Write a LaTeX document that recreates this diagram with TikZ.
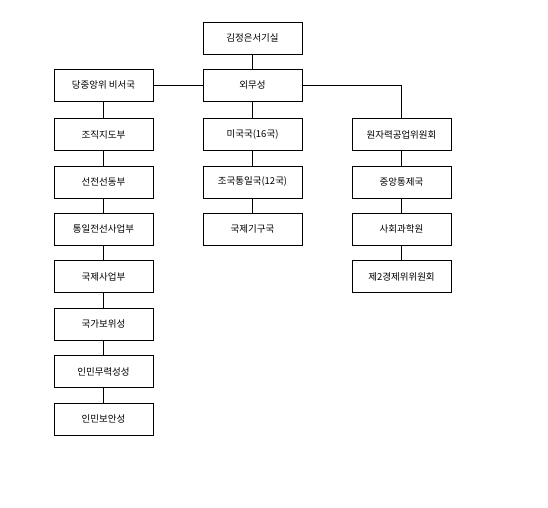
\documentclass[tikz,border=0pt]{standalone}
\usepackage{fontspec}
\newfontfamily\kofont{Noto Sans CJK KR}
\tikzset{every picture/.style={line width=0.8pt}}
\tikzset{unit/.style={draw, minimum width=99pt, minimum height=32pt, inner sep=0pt,
    font=\kofont\fontsize{9.5}{11}\selectfont}}

\begin{document}
\begin{tikzpicture}[x=1pt, y=-1pt]
    \useasboundingbox (0,0) rectangle (548,507);
    \node[unit] (secr) at (252.5,38) {김정은서기실};
    \node[unit] (mofa) at (252.5,85) {외무성};
    \node[unit] (party) at (103.5,85) {당중앙위 비서국};
    % left column
    \foreach \name/\txt [count=\i] in {l1/조직지도부, l2/선전선동부, l3/통일전선사업부, l4/국제사업부, l5/국가보위성, l6/인민무력성성, l7/인민보안성}
        \node[unit] (\name) at (103.5,{134.5+(\i-1)*47.4}) {\txt};
    % middle column
    \foreach \name/\txt [count=\i] in {m1/미국국(16국), m2/조국통일국(12국), m3/국제기구국}
        \node[unit] (\name) at (252.5,{134.5+(\i-1)*47.4}) {\txt};
    % right column
    \foreach \name/\txt [count=\i] in {r1/원자력공업위원회, r2/중앙통제국, r3/사회과학원, r4/제2경제위위원회}
        \node[unit] (\name) at (401.5,{134.5+(\i-1)*47.4}) {\txt};
    \draw (secr) -- (mofa);
    \draw (party) -- (mofa);
    \draw (mofa.east) -| (r1.north);
    \draw (party) -- (l1);
    \foreach \a/\b in {l1/l2, l2/l3, l3/l4, l4/l5, l5/l6, l6/l7}
        \draw (\a) -- (\b);
    \draw (mofa) -- (m1);
    \foreach \a/\b in {m1/m2, m2/m3}
        \draw (\a) -- (\b);
    \foreach \a/\b in {r1/r2, r2/r3, r3/r4}
        \draw (\a) -- (\b);
\end{tikzpicture}
\end{document}
